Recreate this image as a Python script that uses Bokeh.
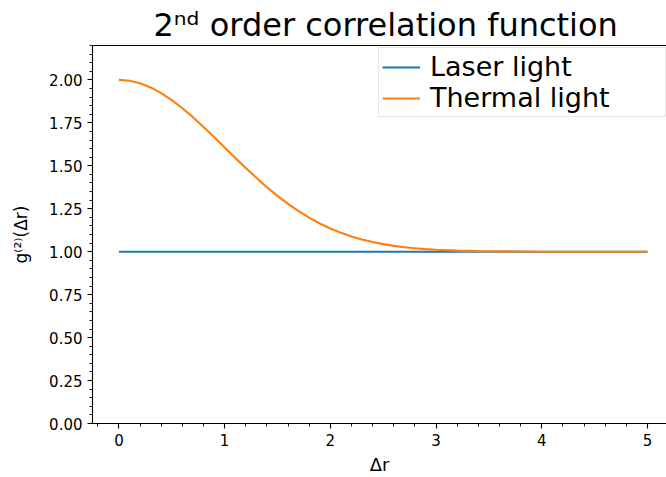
from bokeh.plotting import figure
from bokeh.models import (Range1d, SingleIntervalTicker, LinearAxis, Legend, LegendItem,
                          NumeralTickFormatter, Title, FixedTicker)
from bokeh.embed import file_html
from bokeh.resources import INLINE

# ---- data ----
laser_x = [0.0, 5.0]
laser_y = [1.0, 1.0]

thermal_x = [0.0, 0.1, 0.2, 0.3, 0.4, 0.5, 0.6, 0.7, 0.8, 0.9,
             1.0, 1.1, 1.2, 1.3, 1.4, 1.5, 1.6, 1.7, 1.8, 1.9,
             2.0, 2.1, 2.2, 2.3, 2.4, 2.5, 2.6, 2.7, 2.8, 2.9,
             3.0, 3.2, 3.4, 3.6, 3.8, 4.0, 4.5, 5.0]
thermal_y = [2.000, 1.995, 1.980, 1.956, 1.923, 1.882, 1.835, 1.783, 1.726, 1.667,
             1.607, 1.546, 1.487, 1.430, 1.375, 1.325, 1.278, 1.236, 1.198, 1.164,
             1.135, 1.110, 1.089, 1.071, 1.056, 1.044, 1.034, 1.026, 1.020, 1.015,
             1.011, 1.006, 1.003, 1.002, 1.001, 1.000, 1.000, 1.000]

series_names = ["Laser light", "Thermal light"]
title_text = "2\u207f\u1d48 order correlation function"
ylabel = "g\u207d\u00b2\u207e(\u0394r)"
xlabel = "\u0394r"

FONT = "DejaVu Sans"

p = figure(width=666, height=477, output_backend="svg", toolbar_location=None,
           x_range=Range1d(-0.25, 5.18), y_range=Range1d(0, 2.2),
           min_border_left=92, min_border_right=0, min_border_top=45, min_border_bottom=54,
           background_fill_color="white", border_fill_color="white")
p.outline_line_color = None
p.grid.visible = False

l1 = p.line(laser_x, laser_y, line_color="#1f77b4", line_width=2.1)
l2 = p.line(thermal_x, thermal_y, line_color="#ff7f0e", line_width=2.1)

for ax in (p.xaxis[0], p.yaxis[0]):
    ax.axis_line_color = "black"
    ax.axis_line_width = 1.1
    ax.major_tick_line_color = "black"
    ax.minor_tick_line_color = "black"
    ax.major_tick_line_width = 1.1
    ax.minor_tick_line_width = 0.9
    ax.major_tick_out = 5
    ax.major_tick_in = 0
    ax.minor_tick_out = 3
    ax.minor_tick_in = 0
    ax.major_label_text_font = FONT
    ax.major_label_text_font_size = "15px"
    ax.major_label_text_color = "black"
    ax.major_label_standoff = 5
    ax.axis_label_text_font = FONT
    ax.axis_label_text_font_style = "normal"
    ax.axis_label_text_color = "black"

p.xaxis[0].ticker = SingleIntervalTicker(interval=1, num_minor_ticks=5)
p.yaxis[0].ticker = SingleIntervalTicker(interval=0.25, num_minor_ticks=5)
p.yaxis[0].formatter = NumeralTickFormatter(format="0.00")
p.xaxis[0].axis_label = xlabel
p.xaxis[0].axis_label_text_font_size = "18px"
p.xaxis[0].axis_label_standoff = 5
p.yaxis[0].axis_label = ylabel
p.yaxis[0].axis_label_text_font_size = "17px"
p.yaxis[0].axis_label_standoff = 15

# top spine (axis line only, no ticks or labels)
top = LinearAxis(ticker=FixedTicker(ticks=[], minor_ticks=[]),
                 major_tick_out=0, major_tick_in=0, minor_tick_out=0, minor_tick_in=0,
                 axis_line_color="black", axis_line_width=1.1, major_label_standoff=0)
p.add_layout(top, "above")

p.add_layout(Title(text=title_text, align="left", offset=61, text_font=FONT,
                   text_font_size="32px", text_font_style="normal", text_color="black",
                   standoff=4), "above")

legend = Legend(items=[LegendItem(label=series_names[0], renderers=[l1]),
                       LegendItem(label=series_names[1], renderers=[l2])],
                location=(286, 306), padding=3, spacing=0,
                label_text_font=FONT, label_text_font_size="27px", label_text_color="black",
                glyph_width=38, glyph_height=24, label_height=24, label_standoff=10,
                label_width=232,
                border_line_color="#cccccc", border_line_width=1,
                background_fill_color="white", background_fill_alpha=0.8)
p.add_layout(legend)

open("out.html", "w").write(file_html(p, INLINE))
